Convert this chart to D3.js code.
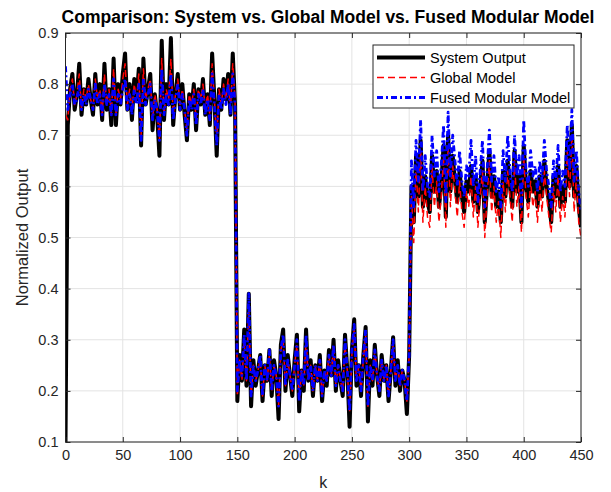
<!DOCTYPE html>
<html>
<head>
<meta charset="utf-8">
<script src="https://cdn.jsdelivr.net/npm/d3@7"></script>
<style>
  body { margin: 0; background: #fff; }
  svg { display: block; }
  .tick text { font-family: "Liberation Sans", Arial, sans-serif; font-size: 14.5px; fill: #262626; }
</style>
</head>
<body>
<div id="chart"></div>
<script>
// sample index k is sampled every 2 steps
const K_STEP = 2;

const xTicks = [0, 50, 100, 150, 200, 250, 300, 350, 400, 450];
const yTicks = [0.1, 0.2, 0.3, 0.4, 0.5, 0.6, 0.7, 0.8, 0.9];

const seriesNames = ['System Output', 'Global Model', 'Fused Modular Model'];

// values for k = 0, 2, 4, ... 450
const systemOutput = [
  0.10, 0.72, 0.79, 0.82, 0.75, 0.78, 0.84, 0.74, 0.79, 0.76, 0.81, 0.77, 0.74, 0.82, 0.76, 0.80,
  0.73, 0.84, 0.75, 0.79, 0.72, 0.85, 0.72, 0.80, 0.76, 0.82, 0.86, 0.75, 0.80, 0.73, 0.81, 0.77,
  0.83, 0.68, 0.85, 0.76, 0.79, 0.82, 0.71, 0.78, 0.74, 0.66, 0.885, 0.73, 0.80, 0.76, 0.89, 0.72,
  0.78, 0.82, 0.75, 0.80, 0.74, 0.69, 0.78, 0.75, 0.80, 0.71, 0.79, 0.76, 0.81, 0.74, 0.78, 0.72,
  0.86, 0.77, 0.66, 0.79, 0.75, 0.81, 0.77, 0.82, 0.74, 0.86, 0.76,
  0.18, 0.27, 0.22, 0.32, 0.21, 0.39, 0.17, 0.26, 0.21, 0.24, 0.27, 0.18, 0.25, 0.22, 0.28, 0.19,
  0.26, 0.23, 0.145, 0.29, 0.32, 0.20, 0.27, 0.23, 0.19, 0.26, 0.31, 0.16, 0.24, 0.20, 0.32, 0.22,
  0.26, 0.19, 0.25, 0.22, 0.27, 0.18, 0.24, 0.21, 0.28, 0.23, 0.30, 0.20, 0.26, 0.22, 0.19, 0.31,
  0.24, 0.13, 0.28, 0.34, 0.21, 0.25, 0.19, 0.27, 0.325, 0.14, 0.26, 0.21, 0.29, 0.23, 0.19, 0.27,
  0.22, 0.25, 0.18, 0.24, 0.305, 0.21, 0.26, 0.20, 0.24, 0.22, 0.155, 0.27,
  0.60, 0.53, 0.66, 0.58, 0.69, 0.56, 0.62, 0.57, 0.55, 0.66, 0.59, 0.63, 0.56, 0.60, 0.68, 0.54,
  0.70, 0.59, 0.66, 0.61, 0.57, 0.63, 0.58, 0.55, 0.61, 0.59, 0.64, 0.57, 0.62, 0.55, 0.60, 0.65,
  0.53, 0.60, 0.67, 0.58, 0.62, 0.56, 0.59, 0.53, 0.63, 0.58, 0.65, 0.60, 0.56, 0.67, 0.59, 0.62,
  0.53, 0.68, 0.60, 0.57, 0.63, 0.59, 0.61, 0.56, 0.62, 0.58, 0.65, 0.60, 0.57, 0.53, 0.62, 0.58,
  0.64, 0.56, 0.60, 0.57, 0.69, 0.60, 0.72, 0.58, 0.64, 0.56, 0.52
];

const globalModel = [
  0.74, 0.73, 0.79, 0.81, 0.76, 0.78, 0.82, 0.75, 0.79, 0.77, 0.80, 0.77, 0.75, 0.81, 0.77, 0.79,
  0.74, 0.82, 0.76, 0.79, 0.74, 0.83, 0.74, 0.79, 0.77, 0.81, 0.84, 0.76, 0.79, 0.75, 0.80, 0.77,
  0.82, 0.70, 0.83, 0.77, 0.79, 0.81, 0.73, 0.78, 0.75, 0.69, 0.85, 0.74, 0.79, 0.77, 0.85, 0.74,
  0.78, 0.81, 0.76, 0.79, 0.75, 0.71, 0.78, 0.76, 0.79, 0.73, 0.79, 0.77, 0.80, 0.75, 0.78, 0.74,
  0.84, 0.77, 0.69, 0.79, 0.76, 0.80, 0.77, 0.81, 0.75, 0.84, 0.77,
  0.19, 0.26, 0.22, 0.30, 0.22, 0.36, 0.19, 0.25, 0.22, 0.24, 0.26, 0.19, 0.25, 0.22, 0.27, 0.20,
  0.25, 0.23, 0.17, 0.28, 0.30, 0.21, 0.26, 0.23, 0.20, 0.25, 0.29, 0.18, 0.24, 0.21, 0.30, 0.22,
  0.25, 0.20, 0.25, 0.22, 0.26, 0.19, 0.24, 0.22, 0.27, 0.23, 0.29, 0.21, 0.25, 0.22, 0.20, 0.29,
  0.24, 0.16, 0.27, 0.32, 0.22, 0.25, 0.20, 0.26, 0.31, 0.17, 0.25, 0.22, 0.28, 0.23, 0.20, 0.26,
  0.22, 0.25, 0.19, 0.24, 0.29, 0.22, 0.25, 0.21, 0.24, 0.22, 0.18, 0.27,
  0.58, 0.49, 0.64, 0.55, 0.67, 0.53, 0.60, 0.54, 0.52, 0.64, 0.56, 0.61, 0.53, 0.58, 0.66, 0.52,
  0.68, 0.56, 0.64, 0.59, 0.54, 0.61, 0.55, 0.52, 0.59, 0.56, 0.62, 0.54, 0.60, 0.52, 0.58, 0.63,
  0.50, 0.58, 0.65, 0.55, 0.60, 0.53, 0.57, 0.50, 0.61, 0.55, 0.63, 0.58, 0.53, 0.65, 0.56, 0.60,
  0.51, 0.66, 0.58, 0.54, 0.61, 0.56, 0.59, 0.53, 0.60, 0.55, 0.63, 0.58, 0.54, 0.51, 0.60, 0.55,
  0.62, 0.53, 0.58, 0.54, 0.67, 0.58, 0.70, 0.55, 0.62, 0.53, 0.50
];

const fusedModel = [
  0.835, 0.75, 0.78, 0.80, 0.76, 0.77, 0.80, 0.75, 0.78, 0.76, 0.79, 0.77, 0.75, 0.80, 0.76, 0.78,
  0.74, 0.80, 0.76, 0.78, 0.74, 0.81, 0.74, 0.78, 0.76, 0.79, 0.81, 0.75, 0.78, 0.74, 0.79, 0.76,
  0.80, 0.69, 0.81, 0.76, 0.78, 0.80, 0.73, 0.77, 0.75, 0.69, 0.83, 0.74, 0.78, 0.76, 0.82, 0.73,
  0.77, 0.80, 0.75, 0.78, 0.75, 0.70, 0.77, 0.75, 0.78, 0.72, 0.78, 0.76, 0.79, 0.74, 0.77, 0.73,
  0.82, 0.76, 0.68, 0.78, 0.75, 0.79, 0.76, 0.80, 0.74, 0.82, 0.76,
  0.20, 0.26, 0.23, 0.31, 0.22, 0.39, 0.19, 0.25, 0.22, 0.24, 0.27, 0.19, 0.25, 0.22, 0.28, 0.20,
  0.25, 0.23, 0.17, 0.28, 0.31, 0.21, 0.26, 0.23, 0.20, 0.25, 0.30, 0.18, 0.24, 0.21, 0.31, 0.22,
  0.25, 0.20, 0.25, 0.22, 0.26, 0.19, 0.24, 0.22, 0.27, 0.23, 0.29, 0.21, 0.25, 0.22, 0.20, 0.30,
  0.24, 0.16, 0.28, 0.33, 0.22, 0.25, 0.20, 0.27, 0.32, 0.17, 0.25, 0.22, 0.28, 0.23, 0.20, 0.26,
  0.22, 0.25, 0.19, 0.24, 0.30, 0.22, 0.25, 0.21, 0.24, 0.22, 0.18, 0.27,
  0.65, 0.56, 0.69, 0.61, 0.73, 0.59, 0.66, 0.60, 0.58, 0.70, 0.62, 0.67, 0.59, 0.64, 0.72, 0.57,
  0.745, 0.62, 0.70, 0.65, 0.60, 0.67, 0.61, 0.58, 0.64, 0.62, 0.69, 0.60, 0.66, 0.57, 0.63, 0.69,
  0.56, 0.63, 0.71, 0.61, 0.66, 0.59, 0.62, 0.56, 0.67, 0.61, 0.70, 0.63, 0.59, 0.70, 0.62, 0.66,
  0.56, 0.73, 0.63, 0.60, 0.67, 0.62, 0.64, 0.59, 0.65, 0.61, 0.69, 0.63, 0.60, 0.56, 0.65, 0.61,
  0.68, 0.59, 0.63, 0.60, 0.72, 0.63, 0.75, 0.61, 0.67, 0.59, 0.55
];

const W = 611, H = 492;
const margin = { top: 33, right: 30, bottom: 50, left: 65.5 };
const FONT = '"Liberation Sans", Arial, Helvetica, sans-serif';
const AXIS_COLOR = '#262626';

const svg = d3.select('#chart').append('svg')
  .attr('width', W)
  .attr('height', H);

svg.append('rect').attr('width', W).attr('height', H).attr('fill', '#fff');

const x = d3.scaleLinear().domain([0, 450]).range([margin.left, W - margin.right]);
const y = d3.scaleLinear().domain([0.1, 0.9]).range([H - margin.bottom, margin.top]);

const x0 = x.range()[0], x1 = x.range()[1];
const y0 = y.range()[0], y1 = y.range()[1];

// grid
const grid = svg.append('g').attr('class', 'grid');
grid.selectAll('line.gx').data(xTicks).enter().append('line')
  .attr('x1', d => x(d)).attr('x2', d => x(d))
  .attr('y1', y0).attr('y2', y1)
  .attr('stroke', '#e3e3e3').attr('stroke-width', 1);
grid.selectAll('line.gy').data(yTicks).enter().append('line')
  .attr('x1', x0).attr('x2', x1)
  .attr('y1', d => y(d)).attr('y2', d => y(d))
  .attr('stroke', '#e3e3e3').attr('stroke-width', 1);

// clip for lines
svg.append('defs').append('clipPath').attr('id', 'plotClip')
  .append('rect')
  .attr('x', x0).attr('y', y1)
  .attr('width', x1 - x0).attr('height', y0 - y1);

const toPoints = arr => arr.map((v, i) => [i * K_STEP, v]);

const line = d3.line()
  .x(d => x(d[0]))
  .y(d => y(d[1]));

const styles = [
  { color: '#000000', width: 4, dash: null },
  { color: '#ff0000', width: 1.5, dash: '7,4' },
  { color: '#0000ff', width: 2.8, dash: '6,3,2,3' }
];

const allSeries = [systemOutput, globalModel, fusedModel];

const plot = svg.append('g').attr('clip-path', 'url(#plotClip)');
allSeries.forEach((s, i) => {
  plot.append('path')
    .datum(toPoints(s))
    .attr('fill', 'none')
    .attr('stroke', styles[i].color)
    .attr('stroke-width', styles[i].width)
    .attr('stroke-linejoin', 'round')
    .attr('stroke-dasharray', styles[i].dash)
    .attr('d', line);
});

// axes, ticks pointing inward
const fmtY = d3.format('.1f');
svg.append('g')
  .attr('transform', `translate(0,${y0})`)
  .call(d3.axisBottom(x).tickValues(xTicks).tickSize(-5).tickPadding(8))
  .call(g => g.select('.domain').remove());
svg.append('g')
  .attr('transform', `translate(0,${y1})`)
  .call(d3.axisTop(x).tickValues(xTicks).tickSize(-5).tickFormat(''))
  .call(g => g.select('.domain').remove());
svg.append('g')
  .attr('transform', `translate(${x0},0)`)
  .call(d3.axisLeft(y).tickValues(yTicks).tickSize(-5).tickPadding(7).tickFormat(fmtY))
  .call(g => g.select('.domain').remove());
svg.append('g')
  .attr('transform', `translate(${x1},0)`)
  .call(d3.axisRight(y).tickValues(yTicks).tickSize(-5).tickFormat(''))
  .call(g => g.select('.domain').remove());
svg.selectAll('.tick line').attr('stroke', AXIS_COLOR);

// box
svg.append('rect')
  .attr('x', x0).attr('y', y1)
  .attr('width', x1 - x0).attr('height', y0 - y1)
  .attr('fill', 'none')
  .attr('stroke', AXIS_COLOR)
  .attr('stroke-width', 1);

// title and labels
svg.append('text')
  .attr('x', 328)
  .attr('y', 23)
  .attr('text-anchor', 'middle')
  .attr('font-family', FONT)
  .attr('font-size', 17.5)
  .attr('font-weight', 'bold')
  .attr('fill', '#000')
  .text('Comparison: System vs. Global Model vs. Fused Modular Model');

svg.append('text')
  .attr('x', (x0 + x1) / 2)
  .attr('y', 488)
  .attr('text-anchor', 'middle')
  .attr('font-family', FONT)
  .attr('font-size', 16)
  .attr('fill', AXIS_COLOR)
  .text('k');

svg.append('text')
  .attr('transform', `translate(28,${(y0 + y1) / 2}) rotate(-90)`)
  .attr('text-anchor', 'middle')
  .attr('font-family', FONT)
  .attr('font-size', 16.5)
  .attr('fill', AXIS_COLOR)
  .text('Normalized Output');

// legend
const legend = svg.append('g').attr('transform', 'translate(373,45)');
legend.append('rect')
  .attr('width', 201).attr('height', 63)
  .attr('fill', '#fff')
  .attr('stroke', AXIS_COLOR)
  .attr('stroke-width', 1);
seriesNames.forEach((name, i) => {
  const ly = 12.5 + i * 20;
  legend.append('line')
    .attr('x1', 4).attr('x2', 52)
    .attr('y1', ly).attr('y2', ly)
    .attr('stroke', styles[i].color)
    .attr('stroke-width', styles[i].width)
    .attr('stroke-dasharray', styles[i].dash);
  legend.append('text')
    .attr('x', 57)
    .attr('y', ly)
    .attr('dy', '0.35em')
    .attr('font-family', FONT)
    .attr('font-size', 14.5)
    .attr('fill', '#000')
    .text(name);
});
</script>
</body>
</html>
